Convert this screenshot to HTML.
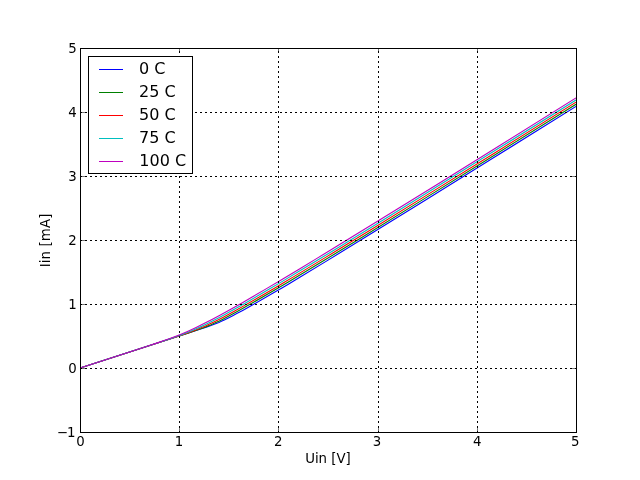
<!DOCTYPE html>
<html><head><meta charset="utf-8"><title>Iin vs Uin</title>
<style>
html,body{margin:0;padding:0;background:#fff;}
body{width:640px;height:480px;overflow:hidden;}
svg{display:block;}
text{font-family:"DejaVu Sans","Liberation Sans",sans-serif;fill:#000;}
</style></head><body>
<svg width="640" height="480" viewBox="0 0 640 480">
<rect width="640" height="480" fill="#fff"/>
<clipPath id="ax"><rect x="80" y="48" width="496" height="384"/></clipPath>
<g fill="none" stroke-width="1.11" stroke-linejoin="round" clip-path="url(#ax)">
<path d="M80.00 368.00 L189.12 332.79 L199.04 329.57 L206.98 326.91 L210.94 325.52 L214.91 324.04 L218.88 322.44 L220.86 321.56 L224.83 319.65 L232.77 315.65 L236.74 313.60 L242.69 310.40 L250.62 305.98 L274.43 292.34 L282.37 287.75 L288.32 284.22 L300.22 277.05 L326.02 261.37 L369.66 234.58 L425.22 200.23 L492.67 158.32 L576.00 106.39" stroke="#0000ff"/>
<path d="M80.00 368.00 L175.23 337.27 L187.14 333.39 L195.07 330.73 L203.01 327.90 L206.98 326.37 L210.94 324.74 L216.90 322.11 L218.88 321.16 L222.85 319.14 L236.74 311.70 L244.67 307.31 L252.61 302.81 L276.42 289.08 L288.32 282.08 L318.08 264.10 L339.90 250.77 L363.71 236.16 L421.25 200.63 L490.69 157.50 L576.00 104.31" stroke="#008000"/>
<path d="M80.00 368.00 L165.31 340.46 L179.20 335.89 L187.14 333.17 L193.09 331.01 L197.06 329.48 L201.02 327.86 L204.99 326.16 L208.96 324.36 L214.91 321.52 L218.88 319.53 L222.85 317.44 L234.75 310.94 L244.67 305.39 L254.59 299.70 L274.43 288.15 L284.35 282.31 L294.27 276.37 L326.02 257.14 L347.84 243.80 L371.65 229.17 L427.20 194.85 L494.66 152.93 L576.00 102.19" stroke="#ff0000"/>
<path d="M80.00 368.00 L157.38 343.00 L171.26 338.37 L177.22 336.30 L181.18 334.86 L187.14 332.59 L191.10 330.98 L195.07 329.30 L201.02 326.62 L206.98 323.79 L212.93 320.81 L218.88 317.72 L224.83 314.54 L234.75 309.07 L244.67 303.46 L256.58 296.59 L268.48 289.60 L282.37 281.36 L298.24 271.84 L316.10 261.04 L335.94 248.95 L381.57 220.94 L435.14 187.81 L500.61 147.09 L576.00 100.03" stroke="#00bfbf"/>
<path d="M80.00 368.00 L129.60 351.99 L149.44 345.52 L157.38 342.87 L163.33 340.83 L169.28 338.70 L173.25 337.23 L179.20 334.91 L185.15 332.44 L189.12 330.70 L195.07 327.97 L201.02 325.09 L206.98 322.09 L212.93 319.00 L220.86 314.74 L230.78 309.26 L240.70 303.65 L252.61 296.78 L266.50 288.64 L282.37 279.22 L298.24 269.69 L316.10 258.89 L335.94 246.81 L381.57 218.80 L437.12 184.44 L500.61 144.94 L576.00 97.85" stroke="#bf00bf"/>
</g>
<g fill="none" stroke="#000" stroke-width="1" stroke-dasharray="2 3">
<path d="M179.5 433V48"/>
<path d="M278.5 433V48"/>
<path d="M378.5 433V48"/>
<path d="M477.5 433V48"/>
<path d="M80 368.5H577"/>
<path d="M80 304.5H577"/>
<path d="M80 240.5H577"/>
<path d="M80 176.5H577"/>
<path d="M80 112.5H577"/>
</g>
<g fill="none" stroke="#000" stroke-width="0.55">
<path d="M80.5 432.5v-4.4M80.5 48.5v4.4M179.5 432.5v-4.4M179.5 48.5v4.4M278.5 432.5v-4.4M278.5 48.5v4.4M378.5 432.5v-4.4M378.5 48.5v4.4M477.5 432.5v-4.4M477.5 48.5v4.4M576.5 432.5v-4.4M576.5 48.5v4.4M80.5 432.5h4.4M576.5 432.5h-4.4M80.5 368.5h4.4M576.5 368.5h-4.4M80.5 304.5h4.4M576.5 304.5h-4.4M80.5 240.5h4.4M576.5 240.5h-4.4M80.5 176.5h4.4M576.5 176.5h-4.4M80.5 112.5h4.4M576.5 112.5h-4.4M80.5 48.5h4.4M576.5 48.5h-4.4"/>
</g>
<rect x="80.5" y="48.5" width="496" height="384" fill="none" stroke="#000" stroke-width="1"/>
<g font-size="13.33px" text-anchor="middle">
<text x="80.6" y="446">0</text>
<text x="179.0" y="446">1</text>
<text x="278.2" y="446">2</text>
<text x="377.1" y="446">3</text>
<text x="477.3" y="446">4</text>
<text x="575.3" y="446">5</text>
</g>
<g font-size="13.33px" text-anchor="end">
<text x="75.4" y="437.0">−<tspan dx="-1.1">1</tspan></text>
<text x="76.7" y="373.0">0</text>
<text x="76.7" y="309.0">1</text>
<text x="76.7" y="245.0">2</text>
<text x="76.7" y="181.0">3</text>
<text x="76.7" y="117.0">4</text>
<text x="76.7" y="53.0">5</text>
</g>
<text x="328" y="462.5" font-size="13.33px" text-anchor="middle">Uin [V]</text>
<text transform="translate(50.4 240.45) rotate(-90)" font-size="13.33px" text-anchor="middle" letter-spacing="0.13">Iin [mA]</text>
<rect x="88.5" y="56.5" width="104" height="117" fill="#fff" stroke="#000" stroke-width="1"/>
<g font-size="16px" stroke-width="1">
<path d="M99 69.5H123" stroke="#0000ff" fill="none"/>
<text x="139.1" y="73.6">0 C</text>
<path d="M99 92.5H123" stroke="#008000" fill="none"/>
<text x="139.1" y="96.6">25 C</text>
<path d="M99 115.5H123" stroke="#ff0000" fill="none"/>
<text x="139.1" y="119.6">50 C</text>
<path d="M99 138.5H123" stroke="#00bfbf" fill="none"/>
<text x="139.1" y="142.6">75 C</text>
<path d="M99 161.5H123" stroke="#bf00bf" fill="none"/>
<text x="139.3" y="165.6">100 C</text>
</g>
</svg>
</body></html>
